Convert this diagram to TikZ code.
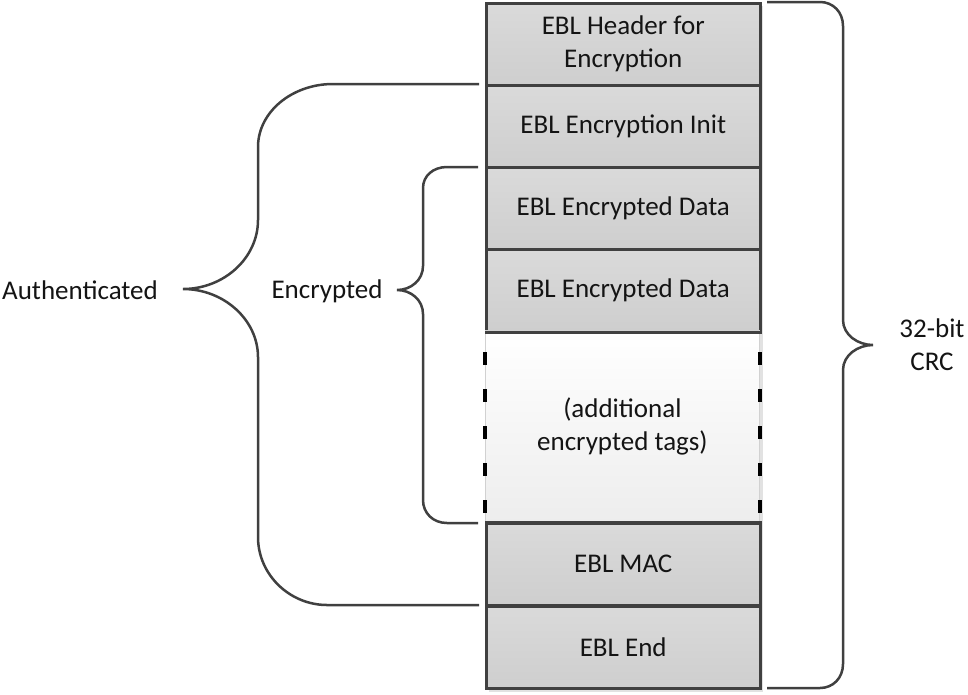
\documentclass[tikz,border=0pt]{standalone}
\usepackage{fontspec}
\setmainfont{Carlito}
\usetikzlibrary{positioning}
\definecolor{edge}{HTML}{404040}
\definecolor{boxtop}{HTML}{DADADA}
\definecolor{boxbot}{HTML}{CECECE}
\definecolor{shadowc}{HTML}{E2E2E2}
\definecolor{txt}{HTML}{141414}
\tikzset{
  stackbox/.style={rectangle, draw=edge, line width=2.5pt, top color=boxtop, bottom color=boxbot,
    minimum width=274pt, minimum height=82pt, inner sep=0pt, anchor=north west,
    align=center, text=txt, font=\fontsize{27}{33}\selectfont},
  openbox/.style={rectangle, draw=black!18, line width=0.8pt, top color=white, bottom color=black!7,
    minimum width=274pt, minimum height=192pt, inner sep=0pt, anchor=north west,
    align=center, text=txt, font=\fontsize{27}{33}\selectfont},
  sidedash/.style={draw=black, line width=3.5pt, dash pattern=on 13pt off 24pt, dash phase=15pt},
  bracepath/.style={draw=edge, line width=2.5pt},
  lbl/.style={text=txt, font=\fontsize{27}{33}\selectfont, align=center, inner sep=0pt}
}
\begin{document}
\begin{tikzpicture}[x=1pt,y=-1pt]
\useasboundingbox (0,0) rectangle (968,694);
% shadow
\fill[shadowc] (489,6) rectangle (763,692);
% stack
\node[stackbox] (hdr) at (485,2) {EBL Header for\\Encryption};
\node[stackbox] (init) at (485,84) {EBL Encryption Init};
\node[stackbox] (data1) at (485,166) {EBL Encrypted Data};
\node[stackbox] (data2) at (485,248) {EBL Encrypted Data};
\node[openbox] (more) at (485,330) {(additional\\encrypted tags)};
\node[stackbox] (mac) at (485,522) {EBL MAC};
\node[stackbox] (endb) at (485,605) {EBL End};
\draw[sidedash] (more.north west) -- (more.south west);
\draw[sidedash] (more.north east) -- (more.south east);
% redraw borders of neighbours over the open box
\draw[draw=edge, line width=2.5pt] (data2.south west) -- (data2.south east);
\draw[draw=edge, line width=2.5pt] (mac.north west) -- (mac.north east);
% brace anchors
\coordinate (aTop) at (479,84);
\coordinate (aBot) at (479,605);
\coordinate (aTip) at (183,289);
\coordinate (eTop) at (478,167);
\coordinate (eBot) at (478,523);
\coordinate (eTip) at (397,290);
\coordinate (cTop) at (767,2);
\coordinate (cBot) at (767,688);
\coordinate (cTip) at (873,345);
% Authenticated brace
\draw[bracepath] (aTop) -- (333,84) .. controls (292,84) and (258,112) .. (258,147)
  -- (258,220) .. controls (258,258) and (224,289) .. (aTip)
  .. controls (224,289) and (258,320) .. (258,357)
  -- (258,537) .. controls (258,575) and (290,605) .. (327,605) -- (aBot);
% Encrypted brace
\draw[bracepath] (eTop) -- (447,167) .. controls (433,167) and (423,176) .. (423,188)
  -- (423,266) .. controls (423,280) and (411,290) .. (eTip)
  .. controls (411,290) and (423,300) .. (423,314)
  -- (423,500) .. controls (423,513) and (433,523) .. (447,523) -- (eBot);
% CRC brace
\draw[bracepath] (cTop) -- (820,2) .. controls (833,2) and (843,12) .. (843,26)
  -- (843,320) .. controls (843,335) and (858,345) .. (cTip)
  .. controls (858,345) and (843,355) .. (843,370)
  -- (843,664) .. controls (843,678) and (833,688) .. (820,688) -- (cBot);
% labels
\node[lbl] (auth) at (80,290) {Authenticated};
\node[lbl] (enc) at (327,291) {Encrypted};
\node[lbl] (crc) at (932,345) {32-bit\\CRC};
\end{tikzpicture}
\end{document}
